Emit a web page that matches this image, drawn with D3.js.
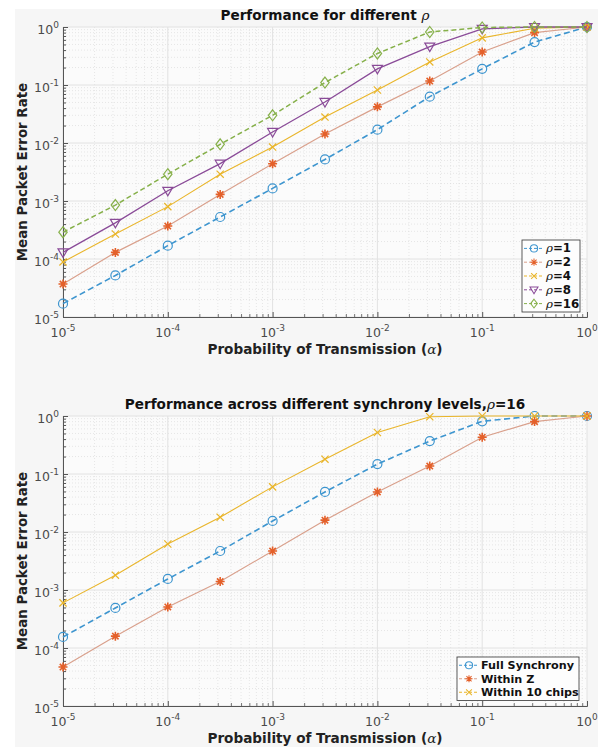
<!DOCTYPE html>
<html>
<head>
<meta charset="utf-8">
<script src="https://cdn.jsdelivr.net/npm/d3@7"></script>
<style>
  body { margin: 0; background: #fff; }
  text { font-family: "DejaVu Sans", sans-serif; }
</style>
</head>
<body>
<div class="figure"></div>
<script>
// x positions (probability of transmission)
const alpha = [1e-5, 3.16e-5, 1e-4, 3.16e-4, 1e-3, 3.16e-3, 1e-2, 3.16e-2, 1e-1, 3.16e-1, 1]
const decades = [-5, -4, -3, -2, -1, 0]

// top panel: different rho
const rho1 = [1.7e-5, 5.2e-5, 1.7e-4, 5.3e-4, 1.65e-3, 5.2e-3, 1.7e-2, 6.3e-2, 0.19, 0.55, 1]
const rho2 = [3.7e-5, 1.3e-4, 3.7e-4, 1.3e-3, 4.4e-3, 1.43e-2, 4.2e-2, 0.117, 0.37, 0.8, 1]
const rho4 = [8.9e-5, 2.7e-4, 8.0e-4, 2.9e-3, 8.5e-3, 2.8e-2, 8.2e-2, 0.25, 0.65, 0.95, 1]
const rho8 = [1.3e-4, 4.2e-4, 1.5e-3, 4.4e-3, 1.55e-2, 5.1e-2, 0.19, 0.46, 0.93, 1, 1]
const rho16 = [2.9e-4, 8.5e-4, 2.9e-3, 9.5e-3, 3.0e-2, 0.11, 0.35, 0.82, 0.98, 1, 1]

// bottom panel: synchrony levels, rho = 16
const fullSync = [1.55e-4, 4.9e-4, 1.55e-3, 4.7e-3, 1.55e-2, 4.9e-2, 0.148, 0.37, 0.81, 1, 1]
const withinZ = [4.7e-5, 1.6e-4, 5.1e-4, 1.4e-3, 4.7e-3, 1.6e-2, 4.9e-2, 0.137, 0.43, 0.8, 1]
const within10 = [6.0e-4, 1.8e-3, 6.2e-3, 1.8e-2, 6.0e-2, 0.18, 0.52, 0.97, 1, 1, 1]

const width = 611
const height = 747

const svg = d3.select('.figure')
  .append('svg')
  .attr('width', width)
  .attr('height', height)

// figure background
svg.append('rect')
  .attr('x', 15).attr('y', 9)
  .attr('width', 583).attr('height', height - 9)
  .attr('fill', '#f6f6f6')

// marker paths
const markers = {
  circle: 'M4.5,0A4.5,4.5,0,1,1,-4.5,0A4.5,4.5,0,1,1,4.5,0Z',
  asterisk: 'M-4.5,0L4.5,0M0,-4.5L0,4.5M-3.2,-3.2L3.2,3.2M-3.2,3.2L3.2,-3.2',
  times: 'M-3.6,-3.6L3.6,3.6M-3.6,3.6L3.6,-3.6',
  triangle: 'M-5,-3.5L5,-3.5L0,5Z',
  diamond: 'M0,-5.5L4.2,0L0,5.5L-4.2,0Z'
}

function drawPanel(cfg) {
  const x = d3.scaleLog().domain([1e-5, 1]).range([cfg.left, cfg.right])
  const y = d3.scaleLog().domain([1e-5, 1]).range([cfg.bottom, cfg.top])

  const g = svg.append('g')

  // plot area
  g.append('rect')
    .attr('x', cfg.left).attr('y', cfg.top)
    .attr('width', cfg.right - cfg.left).attr('height', cfg.bottom - cfg.top)
    .attr('fill', '#fbfbfb')

  // minor grid
  const minor = []
  decades.slice(0, -1).forEach(d => {
    for (let k = 2; k <= 9; k++) minor.push(k * Math.pow(10, d))
  })
  g.selectAll('.minor-x').data(minor).enter().append('line')
    .attr('x1', d => x(d)).attr('x2', d => x(d))
    .attr('y1', cfg.top).attr('y2', cfg.bottom)
    .attr('stroke', '#d8d8d8').attr('stroke-width', 0.6)
    .attr('stroke-dasharray', '1,2')
  g.selectAll('.minor-y').data(minor).enter().append('line')
    .attr('y1', d => y(d)).attr('y2', d => y(d))
    .attr('x1', cfg.left).attr('x2', cfg.right)
    .attr('stroke', '#d8d8d8').attr('stroke-width', 0.6)
    .attr('stroke-dasharray', '1,2')

  // major grid
  const major = decades.map(d => Math.pow(10, d))
  g.selectAll('.major-x').data(major).enter().append('line')
    .attr('x1', d => x(d)).attr('x2', d => x(d))
    .attr('y1', cfg.top).attr('y2', cfg.bottom)
    .attr('stroke', '#e2e2e2').attr('stroke-width', 1)
  g.selectAll('.major-y').data(major).enter().append('line')
    .attr('y1', d => y(d)).attr('y2', d => y(d))
    .attr('x1', cfg.left).attr('x2', cfg.right)
    .attr('stroke', '#e2e2e2').attr('stroke-width', 1)

  // axes (ticks pointing inwards)
  g.append('g')
    .attr('transform', `translate(0,${cfg.bottom})`)
    .call(d3.axisTop(x).tickValues(minor.concat(major)).tickSize(3).tickFormat(''))
    .call(a => a.selectAll('line').attr('stroke', '#555').attr('stroke-width', d => major.includes(d) ? 1 : 0.8)
      .attr('y2', d => major.includes(d) ? -5 : -3))
    .call(a => a.select('.domain').attr('stroke', '#555'))
  g.append('g')
    .attr('transform', `translate(${cfg.left},0)`)
    .call(d3.axisRight(y).tickValues(minor.concat(major)).tickSize(3).tickFormat(''))
    .call(a => a.selectAll('line').attr('stroke', '#555')
      .attr('x2', d => major.includes(d) ? 5 : 3))
    .call(a => a.select('.domain').attr('stroke', '#555'))

  // tick labels with superscripts
  const xl = g.selectAll('.xlab').data(decades).enter().append('text')
    .attr('x', d => x(Math.pow(10, d)))
    .attr('y', cfg.bottom + 20)
    .attr('text-anchor', 'middle')
    .attr('font-size', 12.5)
    .attr('fill', '#4a4a4a')
  xl.append('tspan').text('10')
  xl.append('tspan').attr('dy', -6).attr('font-size', 9).text(d => d === 0 ? '0' : '-' + (-d))

  const yl = g.selectAll('.ylab').data(decades).enter().append('text')
    .attr('x', cfg.left - 4)
    .attr('y', d => y(Math.pow(10, d)) + 7)
    .attr('text-anchor', 'end')
    .attr('font-size', 12.5)
    .attr('fill', '#4a4a4a')
  yl.append('tspan').text('10')
  yl.append('tspan').attr('dy', -6).attr('font-size', 9).text(d => d === 0 ? '0' : '-' + (-d))

  // title
  const t = g.append('text')
    .attr('x', (cfg.left + cfg.right) / 2)
    .attr('y', cfg.top - 7)
    .attr('text-anchor', 'middle')
    .attr('font-size', 13.6)
    .attr('font-weight', 'bold')
    .attr('fill', '#111')
  cfg.title.forEach(p => {
    t.append('tspan').attr('font-style', p.italic ? 'italic' : null)
      .attr('font-weight', p.italic ? 'normal' : null)
      .attr('font-family', p.italic ? 'DejaVu Serif' : null).text(p.text)
  })

  // axis labels
  const xlab = g.append('text')
    .attr('x', (cfg.left + cfg.right) / 2)
    .attr('y', cfg.bottom + 37)
    .attr('text-anchor', 'middle')
    .attr('font-size', 13.6)
    .attr('font-weight', 'bold')
    .attr('fill', '#222')
  xlab.append('tspan').text('Probability of Transmission (')
  xlab.append('tspan').attr('font-style', 'italic').attr('font-weight', 'normal').attr('font-family', 'DejaVu Serif').text('α')
  xlab.append('tspan').text(')')

  g.append('text')
    .attr('transform', `translate(27,${(cfg.top + cfg.bottom) / 2}) rotate(-90)`)
    .attr('text-anchor', 'middle')
    .attr('font-size', 13.4)
    .attr('font-weight', 'bold')
    .attr('fill', '#222')
    .text('Mean Packet Error Rate')

  // series
  const line = d3.line().x((d, i) => x(alpha[i])).y(d => y(d))
  cfg.series.forEach(s => {
    g.append('path')
      .datum(s.values)
      .attr('d', line)
      .attr('fill', 'none')
      .attr('stroke', s.lineColor || s.color)
      .attr('stroke-width', s.width)
      .attr('stroke-dasharray', s.dash)
    g.selectAll(null).data(s.values).enter().append('path')
      .attr('transform', (d, i) => `translate(${x(alpha[i])},${y(d)})`)
      .attr('d', markers[s.marker])
      .attr('fill', 'none')
      .attr('stroke', s.color)
      .attr('stroke-width', s.marker === 'asterisk' ? 1.6 : 1.2)
  })

  // legend
  const L = cfg.legend
  const lg = g.append('g')
  lg.append('rect')
    .attr('x', L.x).attr('y', L.y)
    .attr('width', L.w).attr('height', L.rowH * cfg.series.length + 3)
    .attr('fill', '#fdfdfd').attr('stroke', '#333').attr('stroke-width', 0.8)
  cfg.series.forEach((s, i) => {
    const cy = L.y + 1.5 + L.rowH * (i + 0.5)
    lg.append('line')
      .attr('x1', L.x + 2).attr('x2', L.x + 22)
      .attr('y1', cy).attr('y2', cy)
      .attr('stroke', s.lineColor || s.color).attr('stroke-width', 1)
      .attr('stroke-dasharray', '3,2')
    lg.append('path')
      .attr('transform', `translate(${L.x + 12},${cy}) scale(0.8)`)
      .attr('d', markers[s.marker])
      .attr('fill', 'none')
      .attr('stroke', s.color)
      .attr('stroke-width', 1.3)
    const tx = lg.append('text')
      .attr('x', L.x + 24).attr('y', cy + 4)
      .attr('font-size', L.font).attr('font-weight', 'bold').attr('fill', '#111')
    s.label.forEach(p => {
      tx.append('tspan').attr('font-style', p.italic ? 'italic' : null)
        .attr('font-weight', p.italic ? 'normal' : null)
        .attr('font-family', p.italic ? 'DejaVu Serif' : null).text(p.text)
    })
  })
}

const blue = '#3d95cf'
const orange = '#e4602a'
const yellow = '#e9b52a'
const purple = '#8a4b98'
const green = '#86b04a'

drawPanel({
  left: 63, right: 587, top: 27, bottom: 317,
  title: [{ text: 'Performance for different ' }, { text: 'ρ', italic: true }],
  legend: { x: 522, y: 240, w: 58, rowH: 13.8, font: 11.8 },
  series: [
    { values: rho1, color: blue, marker: 'circle', width: 1.6, dash: '6,3.5', label: [{ text: 'ρ', italic: true }, { text: '=1' }] },
    { values: rho2, color: orange, lineColor: '#d9a08c', marker: 'asterisk', width: 1.2, dash: null, label: [{ text: 'ρ', italic: true }, { text: '=2' }] },
    { values: rho4, color: yellow, marker: 'times', width: 1.1, dash: null, label: [{ text: 'ρ', italic: true }, { text: '=4' }] },
    { values: rho8, color: purple, marker: 'triangle', width: 1.3, dash: null, label: [{ text: 'ρ', italic: true }, { text: '=8' }] },
    { values: rho16, color: green, marker: 'diamond', width: 1.5, dash: '5,3', label: [{ text: 'ρ', italic: true }, { text: '=16' }] }
  ]
})

drawPanel({
  left: 63, right: 587, top: 416, bottom: 706,
  title: [{ text: 'Performance across different synchrony levels,' }, { text: 'ρ', italic: true }, { text: '=16' }],
  legend: { x: 457, y: 657, w: 122, rowH: 13.5, font: 11.2 },
  series: [
    { values: fullSync, color: blue, marker: 'circle', width: 1.6, dash: '6,3.5', label: [{ text: 'Full Synchrony' }] },
    { values: withinZ, color: orange, lineColor: '#d9a08c', marker: 'asterisk', width: 1.2, dash: null, label: [{ text: 'Within Z' }] },
    { values: within10, color: yellow, marker: 'times', width: 1.1, dash: null, label: [{ text: 'Within 10 chips' }] }
  ]
})
</script>
</body>
</html>
